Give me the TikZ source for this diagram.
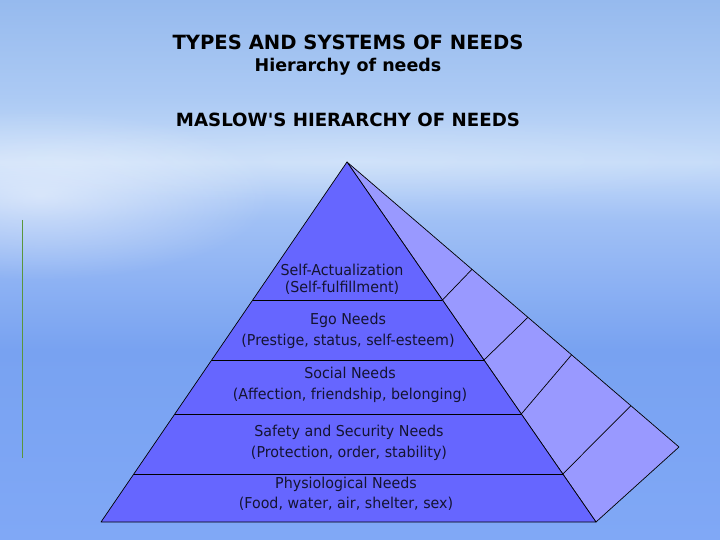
\documentclass[tikz,border=0pt]{standalone}
\usepackage{fontspec}
\setmainfont[FakeStretch=0.95]{DejaVu Sans}
\newfontfamily\titlefont{DejaVu Sans}
\usetikzlibrary{calc,fadings}
\tikzfading[name=glow, inner color=transparent!0, outer color=transparent!100]
\definecolor{skyA}{RGB}{150,186,238}
\definecolor{skyB}{RGB}{172,202,244}
\definecolor{skyC}{RGB}{198,220,249}
\definecolor{skyD}{RGB}{160,192,245}
\definecolor{skyE}{RGB}{120,162,241}
\definecolor{skyF}{RGB}{128,168,246}
\definecolor{front}{RGB}{102,102,255}
\definecolor{side}{RGB}{153,153,255}
\definecolor{vline}{RGB}{90,150,60}
\definecolor{ltext}{RGB}{20,20,50}
\pgfdeclareverticalshading{sky}{100bp}{color(0bp)=(skyF); color(25bp)=(skyF); color(42.6bp)=(skyE); color(54.6bp)=(skyD); color(60bp)=(skyC); color(66bp)=(skyB); color(75bp)=(skyA); color(100bp)=(skyA)}
\tikzset{
  title/.style={font=\titlefont\bfseries\fontsize{19.6}{22}\selectfont, text=black, inner sep=0pt},
  subtitle/.style={font=\titlefont\bfseries\fontsize{17.5}{20}\selectfont, text=black, inner sep=0pt},
  layer/.style={font=\fontsize{15}{20.5}\selectfont, text=ltext, align=center, inner sep=0pt},
  edge/.style={draw=black, line width=0.7pt, line join=round}
}
\begin{document}
\begin{tikzpicture}[x=1pt,y=-1pt]
\useasboundingbox (0,0) rectangle (720,540);
\shade[shading=sky] (0,0) rectangle (720,540);
\fill[white, opacity=0.5, path fading=glow] (40,195) ellipse (230pt and 85pt);
\fill[white, opacity=0.18, path fading=glow] (360,160) ellipse (420pt and 45pt);

% green vertical line
\coordinate (g1) at (22,220);
\coordinate (g2) at (22,458);
\draw[vline, line width=1pt] (g1) -- (g2);

% titles
\node[title] (t1) at (348,42) {TYPES AND SYSTEMS OF NEEDS};
\node[subtitle] (t2) at (348,67) {Hierarchy of needs};
\node[title, font=\titlefont\bfseries\fontsize{18.2}{22}\selectfont] (t3) at (348,120) {MASLOW'S HIERARCHY OF NEEDS};

% pyramid
\coordinate (A) at (347,162);
\coordinate (BL) at (101,522);
\coordinate (BR) at (596,522);
\coordinate (S) at (679,447);

\filldraw[edge, fill=side] (A) -- (S) -- (BR) -- cycle;
\filldraw[edge, fill=front] (A) -- (BL) -- (BR) -- cycle;

\foreach \t/\u [count=\i] in {0.3833/0.3765, 0.55/0.545, 0.7/0.6765, 0.8667/0.855}{
  \coordinate (L\i) at ($(A)!\t!(BL)$);
  \coordinate (R\i) at ($(A)!\t!(BR)$);
  \coordinate (O\i) at ($(A)!\u!(S)$);
  \draw[edge] (L\i) -- (R\i);
  \draw[edge] (R\i) -- (O\i);
}

% labels
\node[layer, font=\fontsize{15}{17}\selectfont] (n1) at (342,279) {Self-Actualization\\(Self-fulfillment)};
\node[layer] (n2) at (348,331) {Ego Needs\\(Prestige, status, self-esteem)};
\node[layer] (n3) at (350,385) {Social Needs\\(Affection, friendship, belonging)};
\node[layer] (n4) at (349,443) {Safety and Security Needs\\(Protection, order, stability)};
\node[layer] (n5) at (346,494) {Physiological Needs\\(Food, water, air, shelter, sex)};
\end{tikzpicture}
\end{document}
